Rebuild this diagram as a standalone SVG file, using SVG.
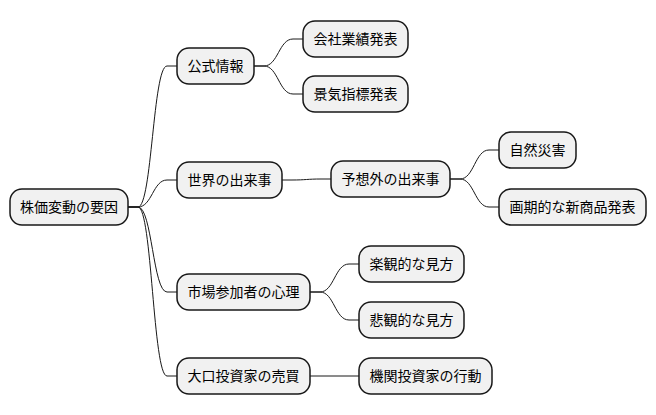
<svg xmlns="http://www.w3.org/2000/svg" width="656" height="415" viewBox="0 0 656 415">
<style>
.n rect{fill:#F1F1F1;stroke:#181818;stroke-width:1.5}
.n text{font-family:"Noto Sans CJK JP","Noto Sans",sans-serif;font-size:14px;fill:#000;text-anchor:middle}
.c path{fill:none;stroke:#181818;stroke-width:1}
</style>
<rect width="656" height="415" fill="#fff"/>
<g class="c" id="connectors">
<path d="M128 207 H138 C152 207 153 66 167 66 H177"/>
<path d="M128 207 H138 C152 207 153 180 167 180 H177"/>
<path d="M128 207 H138 C152 207 153 292 167 292 H177"/>
<path d="M128 207 H138 C152 207 153 376 167 376 H177"/>
<path d="M254 66 H264 C278 66 279 39 293 39 H303"/>
<path d="M254 66 H264 C278 66 279 94 293 94 H303"/>
<path d="M282 180 H292 C306 180 307 179 321 179 H331"/>
<path d="M450 179 H460 C474 179 475 150 489 150 H499"/>
<path d="M450 179 H460 C474 179 475 207 489 207 H499"/>
<path d="M310 292 H320 C334 292 335 264 349 264 H359"/>
<path d="M310 292 H320 C334 292 335 320 349 320 H359"/>
<path d="M310 376 H359"/>
</g>
<g class="n" id="root"><rect x="10" y="189" width="118" height="36" rx="12"/><text x="69" y="212">株価変動の要因</text></g>
<g class="n" id="koushiki"><rect x="177" y="48" width="77" height="36" rx="12"/><text x="215.5" y="71">公式情報</text></g>
<g class="n" id="kaisha"><rect x="303" y="21" width="105" height="36" rx="12"/><text x="355.5" y="44">会社業績発表</text></g>
<g class="n" id="keiki"><rect x="303" y="76" width="105" height="36" rx="12"/><text x="355.5" y="99">景気指標発表</text></g>
<g class="n" id="sekai"><rect x="177" y="162" width="105" height="36" rx="12"/><text x="229.5" y="185">世界の出来事</text></g>
<g class="n" id="yosougai"><rect x="331" y="161" width="119" height="36" rx="12"/><text x="390.5" y="184">予想外の出来事</text></g>
<g class="n" id="shizen"><rect x="499" y="132" width="77" height="36" rx="12"/><text x="537.5" y="155">自然災害</text></g>
<g class="n" id="kakkiteki"><rect x="499" y="189" width="147" height="36" rx="12"/><text x="572.5" y="212">画期的な新商品発表</text></g>
<g class="n" id="shinri"><rect x="177" y="274" width="133" height="36" rx="12"/><text x="243.5" y="297">市場参加者の心理</text></g>
<g class="n" id="rakkan"><rect x="359" y="246" width="105" height="36" rx="12"/><text x="411.5" y="269">楽観的な見方</text></g>
<g class="n" id="hikan"><rect x="359" y="302" width="105" height="36" rx="12"/><text x="411.5" y="325">悲観的な見方</text></g>
<g class="n" id="ooguchi"><rect x="177" y="358" width="133" height="36" rx="12"/><text x="243.5" y="381">大口投資家の売買</text></g>
<g class="n" id="kikan"><rect x="359" y="358" width="133" height="36" rx="12"/><text x="425.5" y="381">機関投資家の行動</text></g>
</svg>
